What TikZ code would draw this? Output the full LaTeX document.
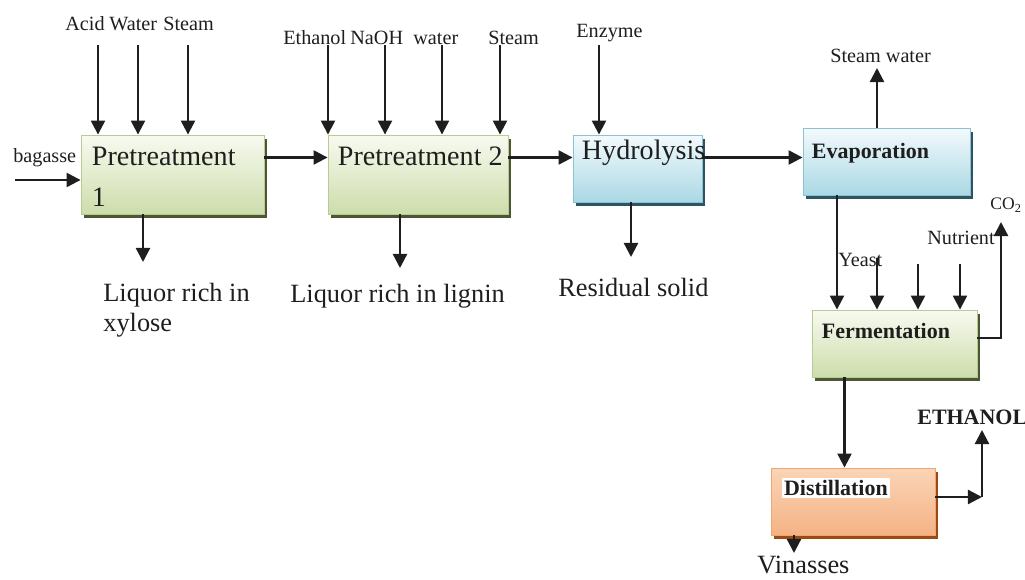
\documentclass[tikz,border=0pt]{standalone}
\usepackage{fontspec}
\setmainfont{Liberation Serif}
\usetikzlibrary{arrows.meta,positioning,shadows}
\definecolor{ink}{HTML}{1E1E1E}
\definecolor{greentop}{HTML}{F8FAF0}
\definecolor{greenbot}{HTML}{CDDDAB}
\definecolor{greenedge}{HTML}{B8CB95}
\definecolor{greenshade}{HTML}{4C5632}
\definecolor{bluetop}{HTML}{F3FAFC}
\definecolor{bluebot}{HTML}{AAD8E5}
\definecolor{blueedge}{HTML}{8CC3D3}
\definecolor{blueshade}{HTML}{2C5561}
\definecolor{orangetop}{HTML}{FAD4B6}
\definecolor{orangemid}{HTML}{FCE6D6}
\definecolor{orangebot}{HTML}{F5B385}
\definecolor{orangeedge}{HTML}{EFA675}
\definecolor{orangeshade}{HTML}{9A4A12}
\tikzstyle{unitbox}=[line width=0.5pt, inner sep=0pt]
\tikzstyle{greenunit}=[unitbox, draw=greenedge, top color=greentop, bottom color=greenbot, drop shadow={shadow xshift=1.5pt, shadow yshift=-2pt, fill=greenshade, opacity=1}]
\tikzstyle{blueunit}=[unitbox, draw=blueedge, top color=bluetop, bottom color=bluebot, drop shadow={shadow xshift=1.5pt, shadow yshift=-2pt, fill=blueshade, opacity=1}]
\tikzstyle{orangeunit}=[unitbox, draw=orangeedge, top color=orangetop, middle color=orangemid, bottom color=orangebot, drop shadow={shadow xshift=1.5pt, shadow yshift=-2pt, fill=orangeshade, opacity=1}]
\tikzstyle{flow}=[draw=ink, line width=1.3pt, -{Triangle[width=8pt,length=8pt]}]
\tikzstyle{stream}=[inner sep=0pt, text=ink, font=\fontsize{11.5}{13}\selectfont]
\tikzstyle{product}=[inner sep=0pt, text=ink, font=\fontsize{15}{17}\selectfont]
\tikzstyle{unitname}=[inner sep=0pt, text=ink, font=\fontsize{16}{23.3}\selectfont]
\tikzstyle{unitbold}=[inner sep=0pt, text=ink, font=\fontsize{12.5}{15}\selectfont\bfseries]

\begin{document}
\begin{tikzpicture}[x=0.02cm, y=-0.02cm]
\useasboundingbox (0,0) rectangle (1025,580);

% process units
\node [greenunit, minimum width=3.66cm, minimum height=1.58cm] (pre1) at (172.5,174.5) {};
\node [greenunit, minimum width=3.6cm, minimum height=1.58cm] (pre2) at (418,174.5) {};
\node [blueunit, minimum width=2.58cm, minimum height=1.34cm] (hydro) at (637.5,168.5) {};
\node [blueunit, minimum width=3.34cm, minimum height=1.34cm] (evap) at (886.5,161.5) {};
\node [greenunit, minimum width=3.3cm, minimum height=1.34cm] (ferm) at (894.5,343.5) {};
\node [orangeunit, minimum width=3.28cm, minimum height=1.34cm] (dist) at (853,501.5) {};

\node [unitname, anchor=north west, align=left] at ([shift={(11,12)}]pre1.north west) {Pretreatment\\1};
\node [unitname, anchor=north west] at ([shift={(10,12)}]pre2.north west) {Pretreatment 2};
\node [unitname, anchor=north west] at ([shift={(9,5)}]hydro.north west) {Hydrolysis};
\node [unitbold, anchor=north west] at ([shift={(9,15)}]evap.north west) {Evaporation};
\node [unitbold, anchor=north west] at ([shift={(10,13)}]ferm.north west) {Fermentation};
\node [unitbold, anchor=north west, fill=white, inner sep=1.2pt] at ([shift={(11,10)}]dist.north west) {Distillation};

% streams in and out
\node [stream, anchor=base west] (acid) at (65,31) {Acid};
\node [stream, anchor=base west] (water1) at (109,31) {Water};
\node [stream, anchor=base west] (steam1) at (163,31) {Steam};
\node [stream, anchor=base west] (bagasse) at (13,163) {bagasse};
\node [stream, anchor=base west] (ethanol) at (283,45) {Ethanol};
\node [stream, anchor=base west] (naoh) at (350,45) {NaOH};
\node [stream, anchor=base west] (water2) at (413,45) {water};
\node [stream, anchor=base west] (steam2) at (488,45) {Steam};
\node [stream, anchor=base west] (enzyme) at (576,38) {Enzyme};
\node [stream, anchor=base west] (steamwater) at (830,63) {Steam water};
\node [stream, anchor=base west] (yeast) at (838,267) {Yeast};
\node [stream, anchor=base west] (nutrient) at (927,245) {Nutrient};
\node [stream, anchor=base west, font=\fontsize{10}{12}\selectfont] (co2) at (990,210) {CO\textsubscript{2}};
\node [product, anchor=north west, align=left] (xylose) at (103,283) {Liquor rich in\\xylose};
\node [product, anchor=base west] (lignin) at (290,303) {Liquor rich in lignin};
\node [product, anchor=base west] (solid) at (558,297) {Residual solid};
\node [product, anchor=base west] (vinasses) at (757,574) {Vinasses};
\node [unitbold, anchor=base west] (ethout) at (917,425) {ETHANOL};

% feeds
\coordinate (acidin) at ([shift={(33,14)}]acid.base west);
\coordinate (water1in) at ([shift={(29,14)}]water1.base west);
\coordinate (steam1in) at ([shift={(25,14)}]steam1.base west);
\coordinate (ethanolin) at ([shift={(45,0)}]ethanol.base west);
\coordinate (naohin) at ([shift={(35,0)}]naoh.base west);
\coordinate (water2in) at ([shift={(29,0)}]water2.base west);
\coordinate (steam2in) at ([shift={(12,0)}]steam2.base west);
\coordinate (enzymein) at ([shift={(23,7)}]enzyme.base west);
\coordinate (yeastin) at ([shift={(39,-9)}]yeast.base west);
\coordinate (nutrin1) at ([shift={(-9,19)}]nutrient.base west);
\coordinate (nutrin2) at ([shift={(33,19)}]nutrient.base west);
\coordinate (feedin) at ([shift={(2,17)}]bagasse.base west);
\draw[flow] (acidin) -- (acidin |- pre1.north);
\draw[flow] (water1in) -- (water1in |- pre1.north);
\draw[flow] (steam1in) -- (steam1in |- pre1.north);
\draw[flow] (ethanolin) -- (ethanolin |- pre2.north);
\draw[flow] (naohin) -- (naohin |- pre2.north);
\draw[flow] (water2in) -- (water2in |- pre2.north);
\draw[flow] (steam2in) -- (steam2in |- pre2.north);
\draw[flow] (enzymein) -- (enzymein |- hydro.north);
\draw[flow] (yeastin) -- (yeastin |- ferm.north);
\draw[flow] (nutrin1) -- (nutrin1 |- ferm.north);
\draw[flow] (nutrin2) -- (nutrin2 |- ferm.north);
\draw[flow] (feedin) -- (feedin -| pre1.west);

% main line
\coordinate (pre1out) at ([shift={(0,-17)}]pre1.east);
\coordinate (pre2out) at ([shift={(0,-17)}]pre2.east);
\coordinate (hydroout) at ([shift={(0,-11)}]hydro.east);
\coordinate (evapout) at ([shift={(-49.5,0)}]evap.south);
\coordinate (fermout) at ([shift={(-50,0)}]ferm.south);
\draw[flow] (pre1out) -- (pre1out -| pre2.west);
\draw[flow] (pre2out) -- (pre2out -| hydro.west);
\draw[flow] (hydroout) -- (hydroout -| evap.west);
\draw[flow] (evapout) -- (evapout |- ferm.north);
\draw[flow] (fermout) -- (fermout |- dist.north);

% products
\coordinate (xylend) at ([shift={(40,-21)}]xylose.north west);
\coordinate (ligend) at ([shift={(110,-35)}]lignin.base west);
\coordinate (solidend) at ([shift={(73,-40)}]solid.base west);
\coordinate (swend) at ([shift={(47,5)}]steamwater.base west);
\coordinate (co2end) at ([shift={(11,12)}]co2.base west);
\coordinate (ethend) at ([shift={(65,5)}]ethout.base west);
\coordinate (vinend) at ([shift={(37,-21)}]vinasses.base west);
\coordinate (distout) at ([shift={(0,-4.5)}]dist.east);
\draw[flow] (xylend |- pre1.south) -- (xylend);
\draw[flow] (ligend |- pre2.south) -- (ligend);
\draw[flow] (solidend |- hydro.south) -- (solidend);
\draw[flow] (swend |- evap.north) -- (swend);
\draw[flow] ([shift={(0,-5.5)}]ferm.east) -| (co2end);
\draw[flow] (distout) -- (distout -| ethend);
\draw[flow] (distout -| ethend) -- (ethend);
\draw[flow] (vinend |- dist.south) -- (vinend);
\end{tikzpicture}
\end{document}
